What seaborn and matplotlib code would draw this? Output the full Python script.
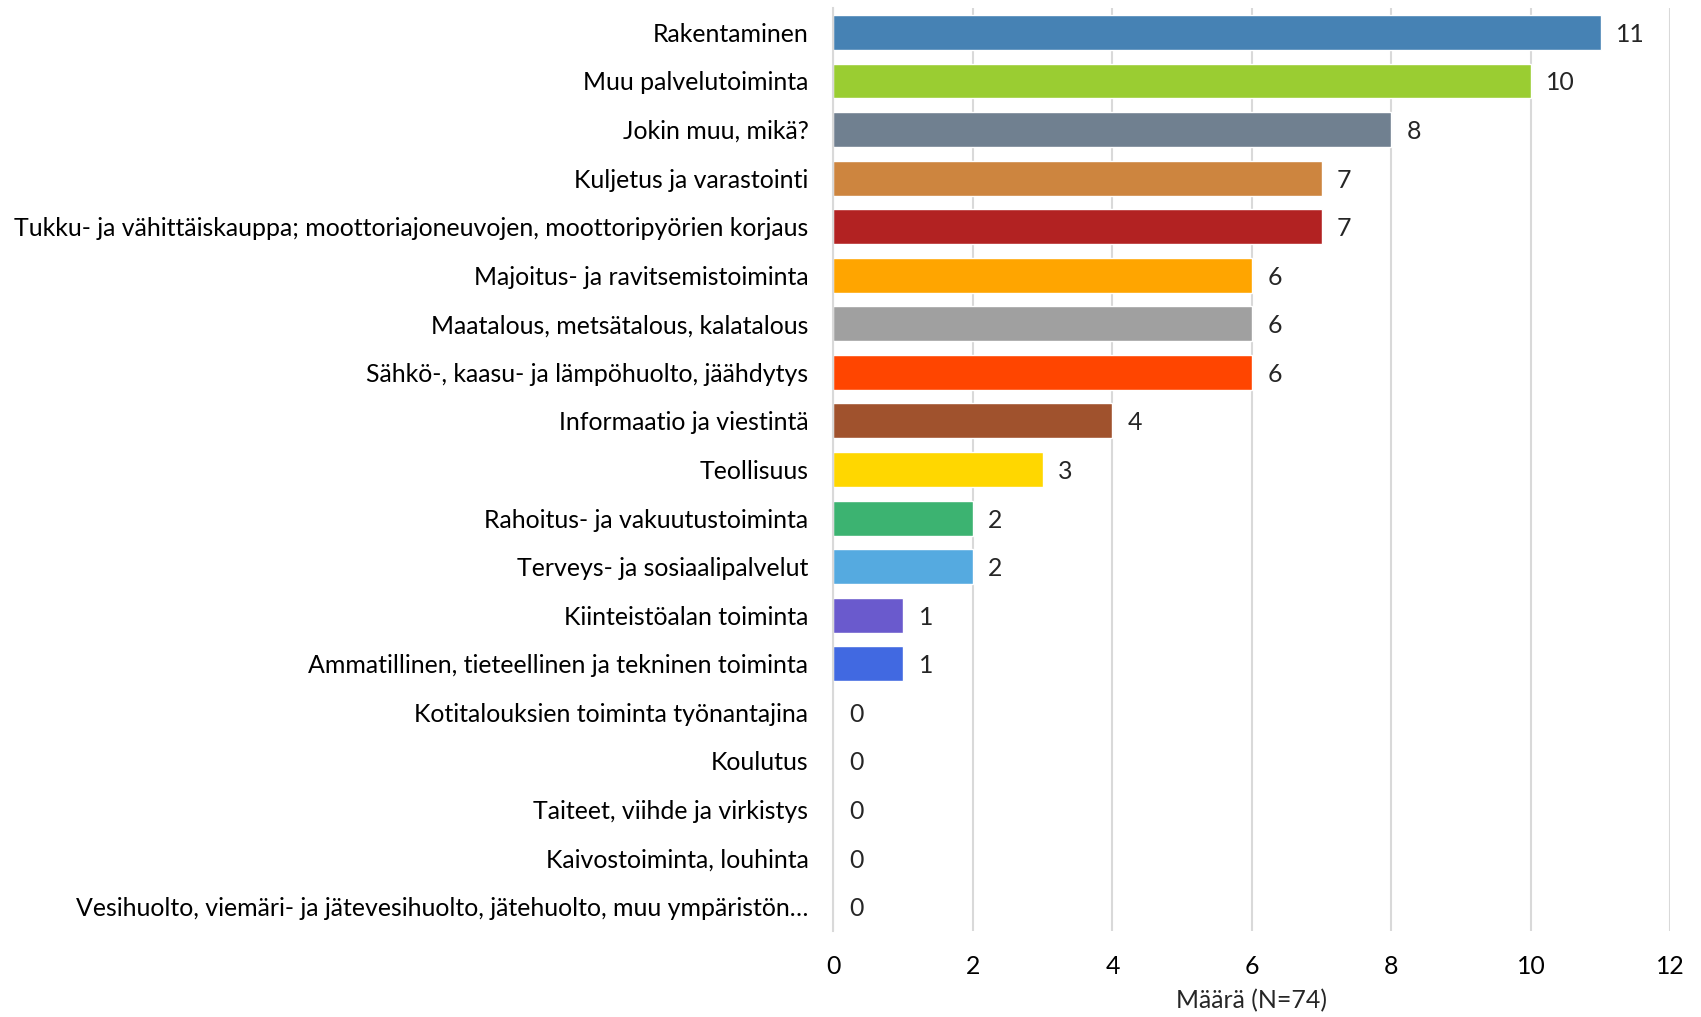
import matplotlib
matplotlib.use("Agg")
import matplotlib.pyplot as plt
import seaborn as sns
import pandas as pd

# Toimialat ja vastausmäärät (luettu kuvasta)
toimialat = [
    "Rakentaminen",
    "Muu palvelutoiminta",
    "Jokin muu, mikä?",
    "Kuljetus ja varastointi",
    "Tukku- ja vähittäiskauppa; moottoriajoneuvojen, moottoripyörien korjaus",
    "Majoitus- ja ravitsemistoiminta",
    "Maatalous, metsätalous, kalatalous",
    "Sähkö-, kaasu- ja lämpöhuolto, jäähdytys",
    "Informaatio ja viestintä",
    "Teollisuus",
    "Rahoitus- ja vakuutustoiminta",
    "Terveys- ja sosiaalipalvelut",
    "Kiinteistöalan toiminta",
    "Ammatillinen, tieteellinen ja tekninen toiminta",
    "Kotitalouksien toiminta työnantajina",
    "Koulutus",
    "Taiteet, viihde ja virkistys",
    "Kaivostoiminta, louhinta",
    "Vesihuolto, viemäri- ja jätevesihuolto, jätehuolto, muu ympäristön…",
]
maarat = [11, 10, 8, 7, 7, 6, 6, 6, 4, 3, 2, 2, 1, 1, 0, 0, 0, 0, 0]
varit = [
    "#4682B4", "#9ACD32", "#708090", "#CD853F", "#B22222", "#FFA500",
    "#A0A0A0", "#FF4500", "#A0522D", "#FFD700", "#3CB371", "#55AAE0",
    "#6A5ACD", "#4169E1", "#999999", "#999999", "#999999", "#999999",
    "#999999",
]

df = pd.DataFrame({"toimiala": toimialat, "maara": maarat})

sns.set_style("white")
plt.rcParams["font.family"] = ["Lato", "DejaVu Sans"]
fs = 17.9

fig = plt.figure(figsize=(17.01, 10.17), dpi=100)
ax = fig.add_axes([0.490, 0.0846, 0.492, 0.9074])

sns.barplot(data=df, x="maara", y="toimiala", hue="toimiala",
            palette=varit, legend=False, width=0.72, ax=ax,
            saturation=1)

ax.set_xlim(0, 12)
ax.set_xticks(range(0, 13, 2))
ax.grid(axis="x", color="#D9D9D9", linewidth=1.5)
ax.set_axisbelow(True)
for s in ["top", "right", "bottom"]:
    ax.spines[s].set_visible(False)
ax.spines["left"].set_color("#D9D9D9")
ax.spines["left"].set_linewidth(1.5)

ax.tick_params(axis="y", length=0, pad=18, labelsize=fs, labelcolor="#000000")
ax.tick_params(axis="x", length=0, pad=17, labelsize=fs, labelcolor="#000000")
ax.set_ylabel("")
ax.set_xlabel("Määrä (N=74)", fontsize=fs, labelpad=8)

for i, v in enumerate(maarat):
    ax.text(v + 0.22, i, str(v), va="center_baseline", ha="left", fontsize=fs)

fig.savefig("out.png", dpi=100)
